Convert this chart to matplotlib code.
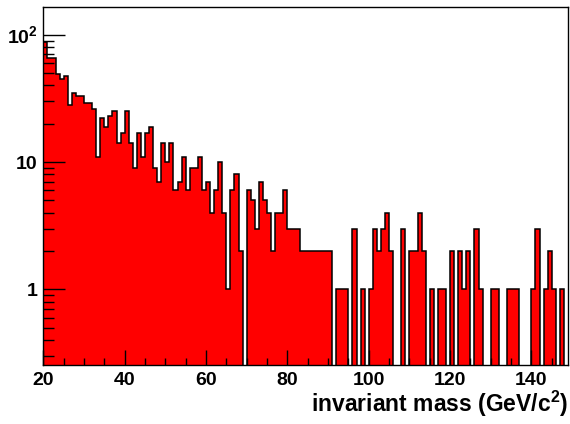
"""Invariant mass histogram, ROOT-style, log y."""
import numpy as np
import matplotlib
matplotlib.use('Agg')
import matplotlib.pyplot as plt
from matplotlib.ticker import MultipleLocator, LogLocator, NullFormatter

# bin edges (1 GeV bins) and counts per bin
bin_lo = 20
bin_hi = 149
counts = [
    88, 66, 66, 49, 45, 47, 28, 35, 33, 33,   # 20-29
    29, 29, 26, 11, 22, 19, 23, 25, 14, 17,   # 30-39
    25, 14, 9, 17, 11, 17, 19, 9, 7, 14,      # 40-49
    10, 14, 6, 7, 11, 6, 9, 9, 11, 6,         # 50-59
    7, 4, 6, 10, 4, 1, 6, 8, 2, 0,            # 60-69
    6, 5, 3, 7, 5, 4, 2, 4, 4, 6,             # 70-79
    3, 3, 3, 2, 2, 2, 2, 2, 2, 2,             # 80-89
    2, 0, 1, 1, 1, 0, 3, 0, 1, 0,             # 90-99
    1, 3, 2, 3, 4, 2, 0, 0, 3, 0,             # 100-109
    2, 2, 4, 2, 0, 1, 0, 1, 1, 0,             # 110-119
    2, 0, 2, 1, 2, 0, 3, 1, 0, 0,             # 120-129
    1, 1, 0, 0, 1, 1, 1, 0, 0, 0,             # 130-139
    1, 3, 0, 1, 2, 1, 0, 1, 0,                # 140-148
]
y_lo, y_hi = 0.253, 165

plt.rcParams['font.family'] = ['Liberation Sans', 'DejaVu Sans']
plt.rcParams['font.weight'] = 'bold'
plt.rcParams['mathtext.fontset'] = 'custom'
plt.rcParams['mathtext.rm'] = 'Liberation Sans:bold'
plt.rcParams['mathtext.bf'] = 'Liberation Sans:bold'

edges = np.arange(bin_lo, bin_hi + 1)
vals = np.array(counts, dtype=float)
draw = np.where(vals > 0, vals, y_lo * 0.5)

fig = plt.figure(figsize=(5.7, 4.24), dpi=100)
ax = fig.add_axes([0.076, 0.1384, 0.9205, 0.8451])

ax.stairs(draw, edges, fill=True, color='#ff0000', baseline=y_lo * 0.5)
ax.stairs(draw, edges, fill=False, color='black', lw=1.1, baseline=y_lo * 0.5)

ax.set_yscale('log')
ax.set_xlim(bin_lo, bin_hi)
ax.set_ylim(y_lo, y_hi)

ax.set_yticks([1, 10, 100])
ax.set_yticklabels(['1', '10', r'$10^{2}$'])
ax.yaxis.set_minor_locator(LogLocator(base=10, subs=np.arange(2, 10)))
ax.yaxis.set_minor_formatter(NullFormatter())
ax.xaxis.set_major_locator(MultipleLocator(20))
ax.xaxis.set_minor_locator(MultipleLocator(5))

ax.tick_params(which='both', direction='in', top=False, right=False,
               labelsize=14, width=1)
ax.tick_params(axis='y', which='major', length=16, pad=4)
ax.tick_params(axis='y', which='minor', length=8)
ax.tick_params(axis='x', which='major', length=11, pad=5)
ax.tick_params(axis='x', which='minor', length=5)
for s in ax.spines.values():
    s.set_linewidth(1.0)

ax.set_xlabel(r'invariant mass (GeV/c$^{2}$)', fontsize=16.5,
              fontweight='bold', loc='right', labelpad=0)

fig.savefig('out.png', dpi=100)
